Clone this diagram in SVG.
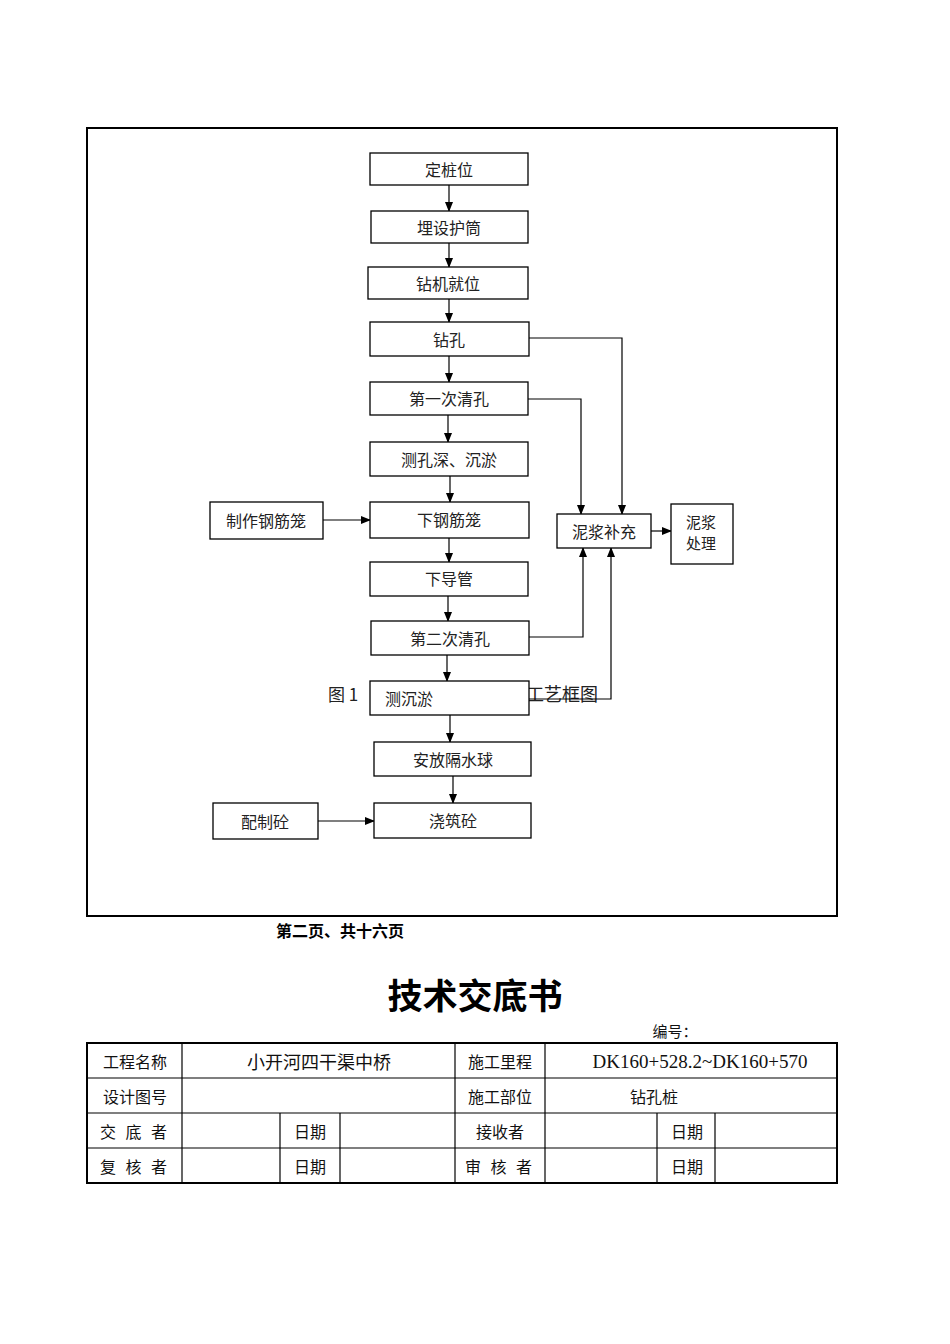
<svg xmlns="http://www.w3.org/2000/svg" width="950" height="1344" viewBox="0 0 950 1344">
<defs>
<marker id="ah" markerWidth="10" markerHeight="8" refX="9" refY="4" orient="auto" markerUnits="userSpaceOnUse">
<path d="M0,0 L10,4 L0,8 Z" fill="#000"/>
</marker>
<style>
.box{fill:#fff;stroke:#000;stroke-width:1.3}
.t{font-family:"Noto Sans CJK SC","Liberation Serif",serif;font-size:16px;fill:#222;text-anchor:middle;dominant-baseline:central}
.c{fill:none;stroke:#000;stroke-width:1.2}
.tt{font-family:"Noto Sans CJK SC",sans-serif;font-size:16px;fill:#111;text-anchor:middle;dominant-baseline:central}
.g{stroke:#000;stroke-width:1.2;fill:none}
</style>
</defs>
<rect x="0" y="0" width="950" height="1344" fill="#fff"/>
<rect x="87" y="128" width="750" height="788" fill="none" stroke="#000" stroke-width="2"/>
<text x="328" y="693" class="t" style="text-anchor:start;font-size:17px">图 1</text>
<text x="526" y="693" class="t" style="text-anchor:start;font-size:18px">工艺框图</text>
<g id="connectors">
<line class="c" x1="449" y1="185" x2="449" y2="211" marker-end="url(#ah)"/>
<line class="c" x1="449" y1="243" x2="449" y2="267" marker-end="url(#ah)"/>
<line class="c" x1="449" y1="299" x2="449" y2="322" marker-end="url(#ah)"/>
<line class="c" x1="449" y1="356" x2="449" y2="382" marker-end="url(#ah)"/>
<line class="c" x1="448" y1="415" x2="448" y2="442" marker-end="url(#ah)"/>
<line class="c" x1="450" y1="476" x2="450" y2="502" marker-end="url(#ah)"/>
<line class="c" x1="449" y1="538" x2="449" y2="562" marker-end="url(#ah)"/>
<line class="c" x1="448" y1="596" x2="448" y2="621" marker-end="url(#ah)"/>
<line class="c" x1="447" y1="655" x2="447" y2="681" marker-end="url(#ah)"/>
<line class="c" x1="450" y1="715" x2="450" y2="742" marker-end="url(#ah)"/>
<line class="c" x1="453" y1="776" x2="453" y2="803" marker-end="url(#ah)"/>
<polyline class="c" points="529,338 622,338 622,514" marker-end="url(#ah)"/>
<polyline class="c" points="528,399 581,399 581,514" marker-end="url(#ah)"/>
<polyline class="c" points="529,637 583,637 583,548" marker-end="url(#ah)"/>
<polyline class="c" points="529,699 611,699 611,548" marker-end="url(#ah)"/>
<line class="c" x1="651" y1="531" x2="671" y2="531" marker-end="url(#ah)"/>
<line class="c" x1="323" y1="520" x2="370" y2="520" marker-end="url(#ah)"/>
<line class="c" x1="318" y1="821" x2="374" y2="821" marker-end="url(#ah)"/>
</g>
<g id="n1"><rect class="box" x="370" y="153" width="158" height="32"/><text class="t" x="449" y="169">定桩位</text></g>
<g id="n2"><rect class="box" x="371" y="211" width="157" height="32"/><text class="t" x="449" y="227">埋设护筒</text></g>
<g id="n3"><rect class="box" x="368" y="267" width="160" height="32"/><text class="t" x="448" y="283">钻机就位</text></g>
<g id="n4"><rect class="box" x="370" y="322" width="159" height="34"/><text class="t" x="449" y="339">钻孔</text></g>
<g id="n5"><rect class="box" x="370" y="382" width="158" height="33"/><text class="t" x="449" y="398">第一次清孔</text></g>
<g id="n6"><rect class="box" x="370" y="442" width="158" height="34"/><text class="t" x="449" y="459">测孔深、沉淤</text></g>
<g id="n7"><rect class="box" x="370" y="502" width="159" height="36"/><text class="t" x="449" y="519">下钢筋笼</text></g>
<g id="n8"><rect class="box" x="210" y="502" width="113" height="37"/><text class="t" x="266" y="520">制作钢筋笼</text></g>
<g id="n9"><rect class="box" x="370" y="562" width="158" height="34"/><text class="t" x="449" y="578">下导管</text></g>
<g id="n10"><rect class="box" x="371" y="621" width="158" height="34"/><text class="t" x="450" y="638">第二次清孔</text></g>
<g id="n11"><rect class="box" x="370" y="681" width="159" height="34"/><text class="t" x="385" y="698" style="text-anchor:start">测沉淤</text></g>
<g id="n12"><rect class="box" x="374" y="742" width="157" height="34"/><text class="t" x="453" y="759">安放隔水球</text></g>
<g id="n13"><rect class="box" x="374" y="803" width="157" height="35"/><text class="t" x="453" y="820">浇筑砼</text></g>
<g id="n14"><rect class="box" x="213" y="803" width="105" height="36"/><text class="t" x="265" y="821">配制砼</text></g>
<g id="n15"><rect class="box" x="557" y="514" width="94" height="34"/><text class="t" x="604" y="531">泥浆补充</text></g>
<g id="n16"><rect class="box" x="671" y="504" width="62" height="60"/><text class="t" x="701" y="521" style="font-size:15px">泥浆</text><text class="t" x="701" y="542" style="font-size:15px">处理</text></g>
<text x="340" y="930" style="font-family:'Noto Sans CJK SC',sans-serif;font-size:16px;font-weight:bold;fill:#000;text-anchor:middle;dominant-baseline:central">第二页、共十六页</text>
<text x="475" y="993" style="font-family:'Noto Sans CJK SC',sans-serif;font-size:35px;font-weight:bold;fill:#000;text-anchor:middle;dominant-baseline:central">技术交底书</text>
<text x="675" y="1030" class="tt" style="font-size:15px">编号：</text>
<g id="table">
<rect x="87" y="1043" width="750" height="140" fill="none" stroke="#000" stroke-width="2"/>
<line class="g" x1="87" y1="1078" x2="837" y2="1078"/>
<line class="g" x1="87" y1="1113" x2="837" y2="1113"/>
<line class="g" x1="87" y1="1148" x2="837" y2="1148"/>
<line class="g" x1="182" y1="1043" x2="182" y2="1183"/>
<line class="g" x1="455" y1="1043" x2="455" y2="1183"/>
<line class="g" x1="545" y1="1043" x2="545" y2="1183"/>
<line class="g" x1="280" y1="1113" x2="280" y2="1183"/>
<line class="g" x1="340" y1="1113" x2="340" y2="1183"/>
<line class="g" x1="657" y1="1113" x2="657" y2="1183"/>
<line class="g" x1="715" y1="1113" x2="715" y2="1183"/>
<text class="tt" x="135" y="1061">工程名称</text>
<text class="tt" x="319" y="1061" style="font-size:18px">小开河四干渠中桥</text>
<text class="tt" x="500" y="1061">施工里程</text>
<text x="700" y="1061" style="font-family:'Liberation Serif',serif;font-size:19px;fill:#111;text-anchor:middle;dominant-baseline:central">DK160+528.2~DK160+570</text>
<text class="tt" x="135" y="1096">设计图号</text>
<text class="tt" x="500" y="1096">施工部位</text>
<text class="tt" x="654" y="1096">钻孔桩</text>
<text class="tt" x="135" y="1131" xml:space="preserve" style="letter-spacing:3px">交 底 者</text>
<text class="tt" x="310" y="1131">日期</text>
<text class="tt" x="500" y="1131">接收者</text>
<text class="tt" x="687" y="1131">日期</text>
<text class="tt" x="135" y="1166" xml:space="preserve" style="letter-spacing:3px">复 核 者</text>
<text class="tt" x="310" y="1166">日期</text>
<text class="tt" x="500" y="1166" xml:space="preserve" style="letter-spacing:3px">审 核 者</text>
<text class="tt" x="687" y="1166">日期</text>
</g>
</svg>
